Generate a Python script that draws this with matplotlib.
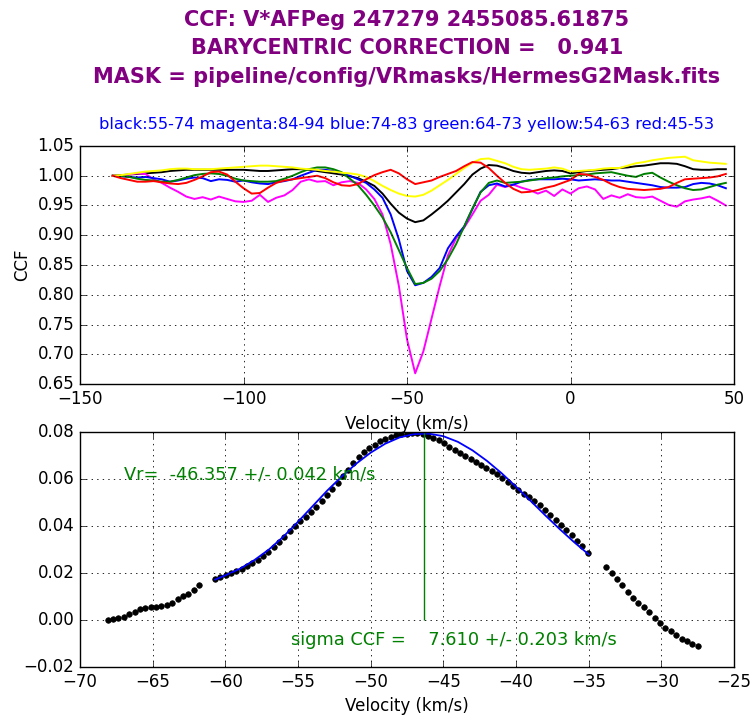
import numpy as np
import matplotlib
matplotlib.use("Agg")
import matplotlib.pyplot as plt

# ---------------- data: upper panel (CCF per order range) ----------------
vel_top = np.arange(-140.0, 50.0, 2.5)

ccf_black = [1.000, 1.001, 1.002, 1.003, 1.004, 1.005, 1.006, 1.008, 1.009, 1.010,
             1.010, 1.010, 1.010, 1.010, 1.010, 1.010, 1.010, 1.009, 1.008, 1.008,
             1.009, 1.010, 1.011, 1.011, 1.010, 1.008, 1.006, 1.004, 1.002, 0.999,
             0.996, 0.990, 0.983, 0.970, 0.953, 0.938, 0.928,
             0.922, 0.925, 0.935, 0.946, 0.958, 0.972, 0.986, 1.002, 1.012, 1.018,
             1.017, 1.013, 1.008, 1.005, 1.004, 1.006, 1.008, 1.009, 1.008, 1.004,
             1.006, 1.008, 1.009, 1.010, 1.011, 1.013, 1.014, 1.016, 1.017, 1.019,
             1.021, 1.021, 1.020, 1.016, 1.011, 1.010, 1.010, 1.011, 1.011]

ccf_magenta = [1.000, 1.000, 1.002, 1.004, 1.003, 0.994, 0.988, 0.980, 0.973, 0.965,
               0.961, 0.964, 0.960, 0.965, 0.961, 0.957, 0.956, 0.958, 0.968, 0.956,
               0.963, 0.967, 0.976, 0.990, 0.994, 0.990, 0.991, 0.984, 0.989, 0.991,
               0.988, 0.977, 0.961, 0.935, 0.885, 0.815, 0.725,
               0.668, 0.705, 0.760, 0.815, 0.866, 0.895, 0.913, 0.935, 0.958, 0.968,
               0.985, 0.981, 0.985, 0.980, 0.976, 0.970, 0.975, 0.966, 0.977, 0.970,
               0.979, 0.982, 0.977, 0.961, 0.967, 0.963, 0.969, 0.964, 0.963, 0.965,
               0.958, 0.951, 0.948, 0.957, 0.960, 0.962, 0.965, 0.958, 0.950]

ccf_blue = [1.000, 0.999, 0.998, 0.997, 0.998, 0.996, 0.994, 0.990, 0.992, 0.995,
            0.997, 0.996, 0.991, 0.994, 0.993, 0.990, 0.992, 0.989, 0.987, 0.986,
            0.989, 0.991, 0.994, 1.000, 1.005, 1.010, 1.010, 1.008, 1.004, 1.000,
            0.994, 0.988, 0.977, 0.963, 0.935, 0.893, 0.840,
            0.816, 0.820, 0.830, 0.845, 0.878, 0.898, 0.915, 0.944, 0.973, 0.984,
            0.987, 0.982, 0.985, 0.990, 0.993, 0.994, 0.994, 0.994, 0.995, 0.994,
            0.992, 0.993, 0.994, 0.993, 0.992, 0.992, 0.990, 0.988, 0.986, 0.984,
            0.981, 0.980, 0.980, 0.981, 0.986, 0.988, 0.987, 0.984, 0.979]

ccf_green = [1.000, 1.000, 0.998, 0.995, 0.993, 0.992, 0.990, 0.990, 0.993, 0.997,
             1.001, 1.003, 1.004, 1.003, 1.000, 0.995, 0.992, 0.991, 0.990, 0.990,
             0.991, 0.995, 1.000, 1.006, 1.011, 1.014, 1.014, 1.011, 1.006, 0.995,
             0.984, 0.968, 0.950, 0.930, 0.905, 0.875, 0.845,
             0.818, 0.820, 0.827, 0.840, 0.860, 0.885, 0.915, 0.945, 0.972, 0.988,
             0.992, 0.988, 0.989, 0.990, 0.992, 0.994, 0.996, 0.997, 0.999, 1.000,
             1.001, 1.002, 1.004, 1.005, 1.006, 1.003, 1.000, 0.998, 1.003, 1.005,
             0.997, 0.990, 0.984, 0.979, 0.976, 0.977, 0.981, 0.985, 0.988]

ccf_yellow = [1.000, 1.001, 1.003, 1.005, 1.007, 1.008, 1.009, 1.011, 1.012, 1.012,
              1.011, 1.011, 1.011, 1.012, 1.013, 1.014, 1.015, 1.016, 1.017, 1.017,
              1.016, 1.015, 1.014, 1.012, 1.011, 1.010, 1.008, 1.007, 1.005, 1.004,
              1.002, 0.998, 0.991, 0.983, 0.976, 0.970, 0.966,
              0.965, 0.968, 0.975, 0.984, 0.993, 1.003, 1.013, 1.022, 1.028, 1.029,
              1.025, 1.021, 1.015, 1.011, 1.010, 1.011, 1.012, 1.014, 1.012, 1.007,
              1.008, 1.009, 1.010, 1.012, 1.013, 1.013, 1.017, 1.021, 1.023, 1.026,
              1.028, 1.030, 1.031, 1.032, 1.026, 1.024, 1.022, 1.021, 1.020]

ccf_red = [1.000, 0.996, 0.993, 0.990, 0.990, 0.991, 0.989, 0.987, 0.986, 0.988,
           0.993, 0.999, 1.006, 1.007, 1.002, 0.990, 0.979, 0.970, 0.971, 0.980,
           0.988, 0.992, 0.994, 0.996, 0.998, 1.000, 0.996, 0.989, 0.984, 0.983,
           0.986, 0.994, 1.001, 1.006, 1.010, 1.004, 0.994,
           0.986, 0.989, 0.992, 0.998, 1.003, 1.008, 1.016, 1.023, 1.022, 1.013,
           1.000, 0.988, 0.978, 0.972, 0.973, 0.976, 0.980, 0.983, 0.988, 0.993,
           1.003, 1.002, 0.998, 0.993, 0.986, 0.981, 0.978, 0.977, 0.976, 0.977,
           0.978, 0.981, 0.988, 0.994, 0.995, 0.996, 0.997, 0.999, 1.003]

series_names = ["black", "magenta", "blue", "green", "yellow", "red"]
series_values = [ccf_black, ccf_magenta, ccf_blue, ccf_green, ccf_yellow, ccf_red]
series_colors = ["black", "#ff00ff", "#0000ff", "#008000", "#ffff00", "#ff0000"]

# ---------------- data: lower panel (combined CCF and Gaussian fit) ----------------
dots_left_v = np.linspace(-68.1, -61.8, 18)
dots_left = [0.0000, 0.0004, 0.0008, 0.0014, 0.0027, 0.0036, 0.0045, 0.0051, 0.0055,
             0.0055, 0.0059, 0.0065, 0.0074, 0.0088, 0.0102, 0.0112, 0.0127, 0.0147]

dots_mid_v = np.linspace(-60.7, -35.08, 71)
dots_mid = [0.0176, 0.0184, 0.0192, 0.0200, 0.0208, 0.0217, 0.0228, 0.0242, 0.0256, 0.0272,
            0.0290, 0.0310, 0.0332, 0.0355, 0.0378, 0.0400, 0.0420, 0.0440, 0.0460, 0.0482,
            0.0505, 0.0530, 0.0556, 0.0583, 0.0612, 0.0640, 0.0668, 0.0693, 0.0714, 0.0731,
            0.0746, 0.0760, 0.0771, 0.0780, 0.0786, 0.0790, 0.0793, 0.0795, 0.0794, 0.0791,
            0.0784, 0.0775, 0.0764, 0.0751, 0.0738, 0.0724, 0.0710, 0.0697, 0.0684, 0.0672,
            0.0660, 0.0648, 0.0635, 0.0621, 0.0604, 0.0587, 0.0570, 0.0554, 0.0538, 0.0522,
            0.0506, 0.0489, 0.0469, 0.0447, 0.0425, 0.0404, 0.0384, 0.0362, 0.0338, 0.0313,
            0.0285]

dots_right_v = np.linspace(-33.8, -27.5, 18)
dots_right = [0.0226, 0.0200, 0.0175, 0.0148, 0.0120, 0.0095, 0.0074, 0.0055, 0.0034,
              0.0010, -0.0011, -0.0032, -0.0049, -0.0063, -0.0079, -0.0089, -0.0103, -0.0110]

fit_v = [-60.7, -60, -59, -58, -57, -56, -55, -54, -53, -52, -51, -50, -49, -48, -47,
         -46, -45, -44, -43, -42, -41, -40, -39, -38, -37, -36, -35]
fit_y = [0.0172, 0.0190, 0.0218, 0.0255, 0.0300, 0.0355, 0.0418, 0.0484, 0.0550, 0.0610,
         0.0665, 0.0712, 0.0750, 0.0777, 0.0791, 0.0793, 0.0782, 0.0758, 0.0722, 0.0677,
         0.0625, 0.0567, 0.0507, 0.0446, 0.0387, 0.0331, 0.0279]

vr = -46.357
vr_err = 0.042
sigma = 7.610
sigma_err = 0.203

title_lines = ["CCF: V*AFPeg 247279 2455085.61875",
               "BARYCENTRIC CORRECTION =   0.941",
               "MASK = pipeline/config/VRmasks/HermesG2Mask.fits"]
subtitle = "black:55-74 magenta:84-94 blue:74-83 green:64-73 yellow:54-63 red:45-53"

# ---------------- figure ----------------
plt.style.use("classic")
plt.rcParams["font.family"] = ["DejaVu Sans"]
fig = plt.figure(figsize=(7.52, 7.22), dpi=100, facecolor="white")

ax1 = fig.add_axes([0.1064, 0.4681, 0.8697, 0.3297])
ax2 = fig.add_axes([0.1064, 0.0762, 0.8697, 0.3255])

for vals, col in zip(series_values, series_colors):
    ax1.plot(vel_top, vals, color=col, lw=1.4)
ax1.set_xlim(-150, 50)
ax1.set_ylim(0.65, 1.05)
ax1.set_xticks(np.arange(-150, 51, 50))
ax1.set_yticks(np.arange(0.65, 1.051, 0.05))
ax1.set_ylabel("CCF", fontsize=12)
ax1.set_xlabel("Velocity (km/s)", fontsize=12)
ax1.grid(True, linestyle=":", color="k", lw=0.6)

ax2.plot(dots_left_v, dots_left, "o", color="k", ms=4.0, mec="k")
ax2.plot(dots_mid_v, dots_mid, "o", color="k", ms=4.0, mec="k")
ax2.plot(dots_right_v, dots_right, "o", color="k", ms=4.0, mec="k")
ax2.plot(fit_v, fit_y, color="#0000ff", lw=1.3)
ax2.vlines(vr, 0.0, 0.08, color="#008000", lw=1.0)
ax2.set_xlim(-70, -25)
ax2.set_ylim(-0.02, 0.08)
ax2.set_xticks(np.arange(-70, -24, 5))
ax2.set_yticks(np.arange(-0.02, 0.081, 0.02))
ax2.set_xlabel("Velocity (km/s)", fontsize=12)
ax2.grid(True, linestyle=":", color="k", lw=0.6)
ax2.text(-67.0, 0.0617, "Vr=  %.3f +/- %.3f km/s" % (vr, vr_err), color="#008000",
         fontsize=12.8, va="center", ha="left")
ax2.text(-55.5, -0.0087, "sigma CCF =    %.3f +/- %.3f km/s" % (sigma, sigma_err),
         color="#008000", fontsize=12.8, va="center", ha="left")

for ax in (ax1, ax2):
    ax.tick_params(labelsize=12)

cx = 0.1064 + 0.8697 / 2
for i, line in enumerate(title_lines):
    fig.text(cx, 1 - (20 + 28.5 * i) / 722, line, ha="center", va="center",
             fontsize=15, fontweight="bold", color="#800080")
fig.text(cx, 1 - 125 / 722, subtitle, ha="center", va="center", fontsize=11.7,
         color="#0000ff")

fig.savefig("out.png", dpi=100, facecolor="white")
